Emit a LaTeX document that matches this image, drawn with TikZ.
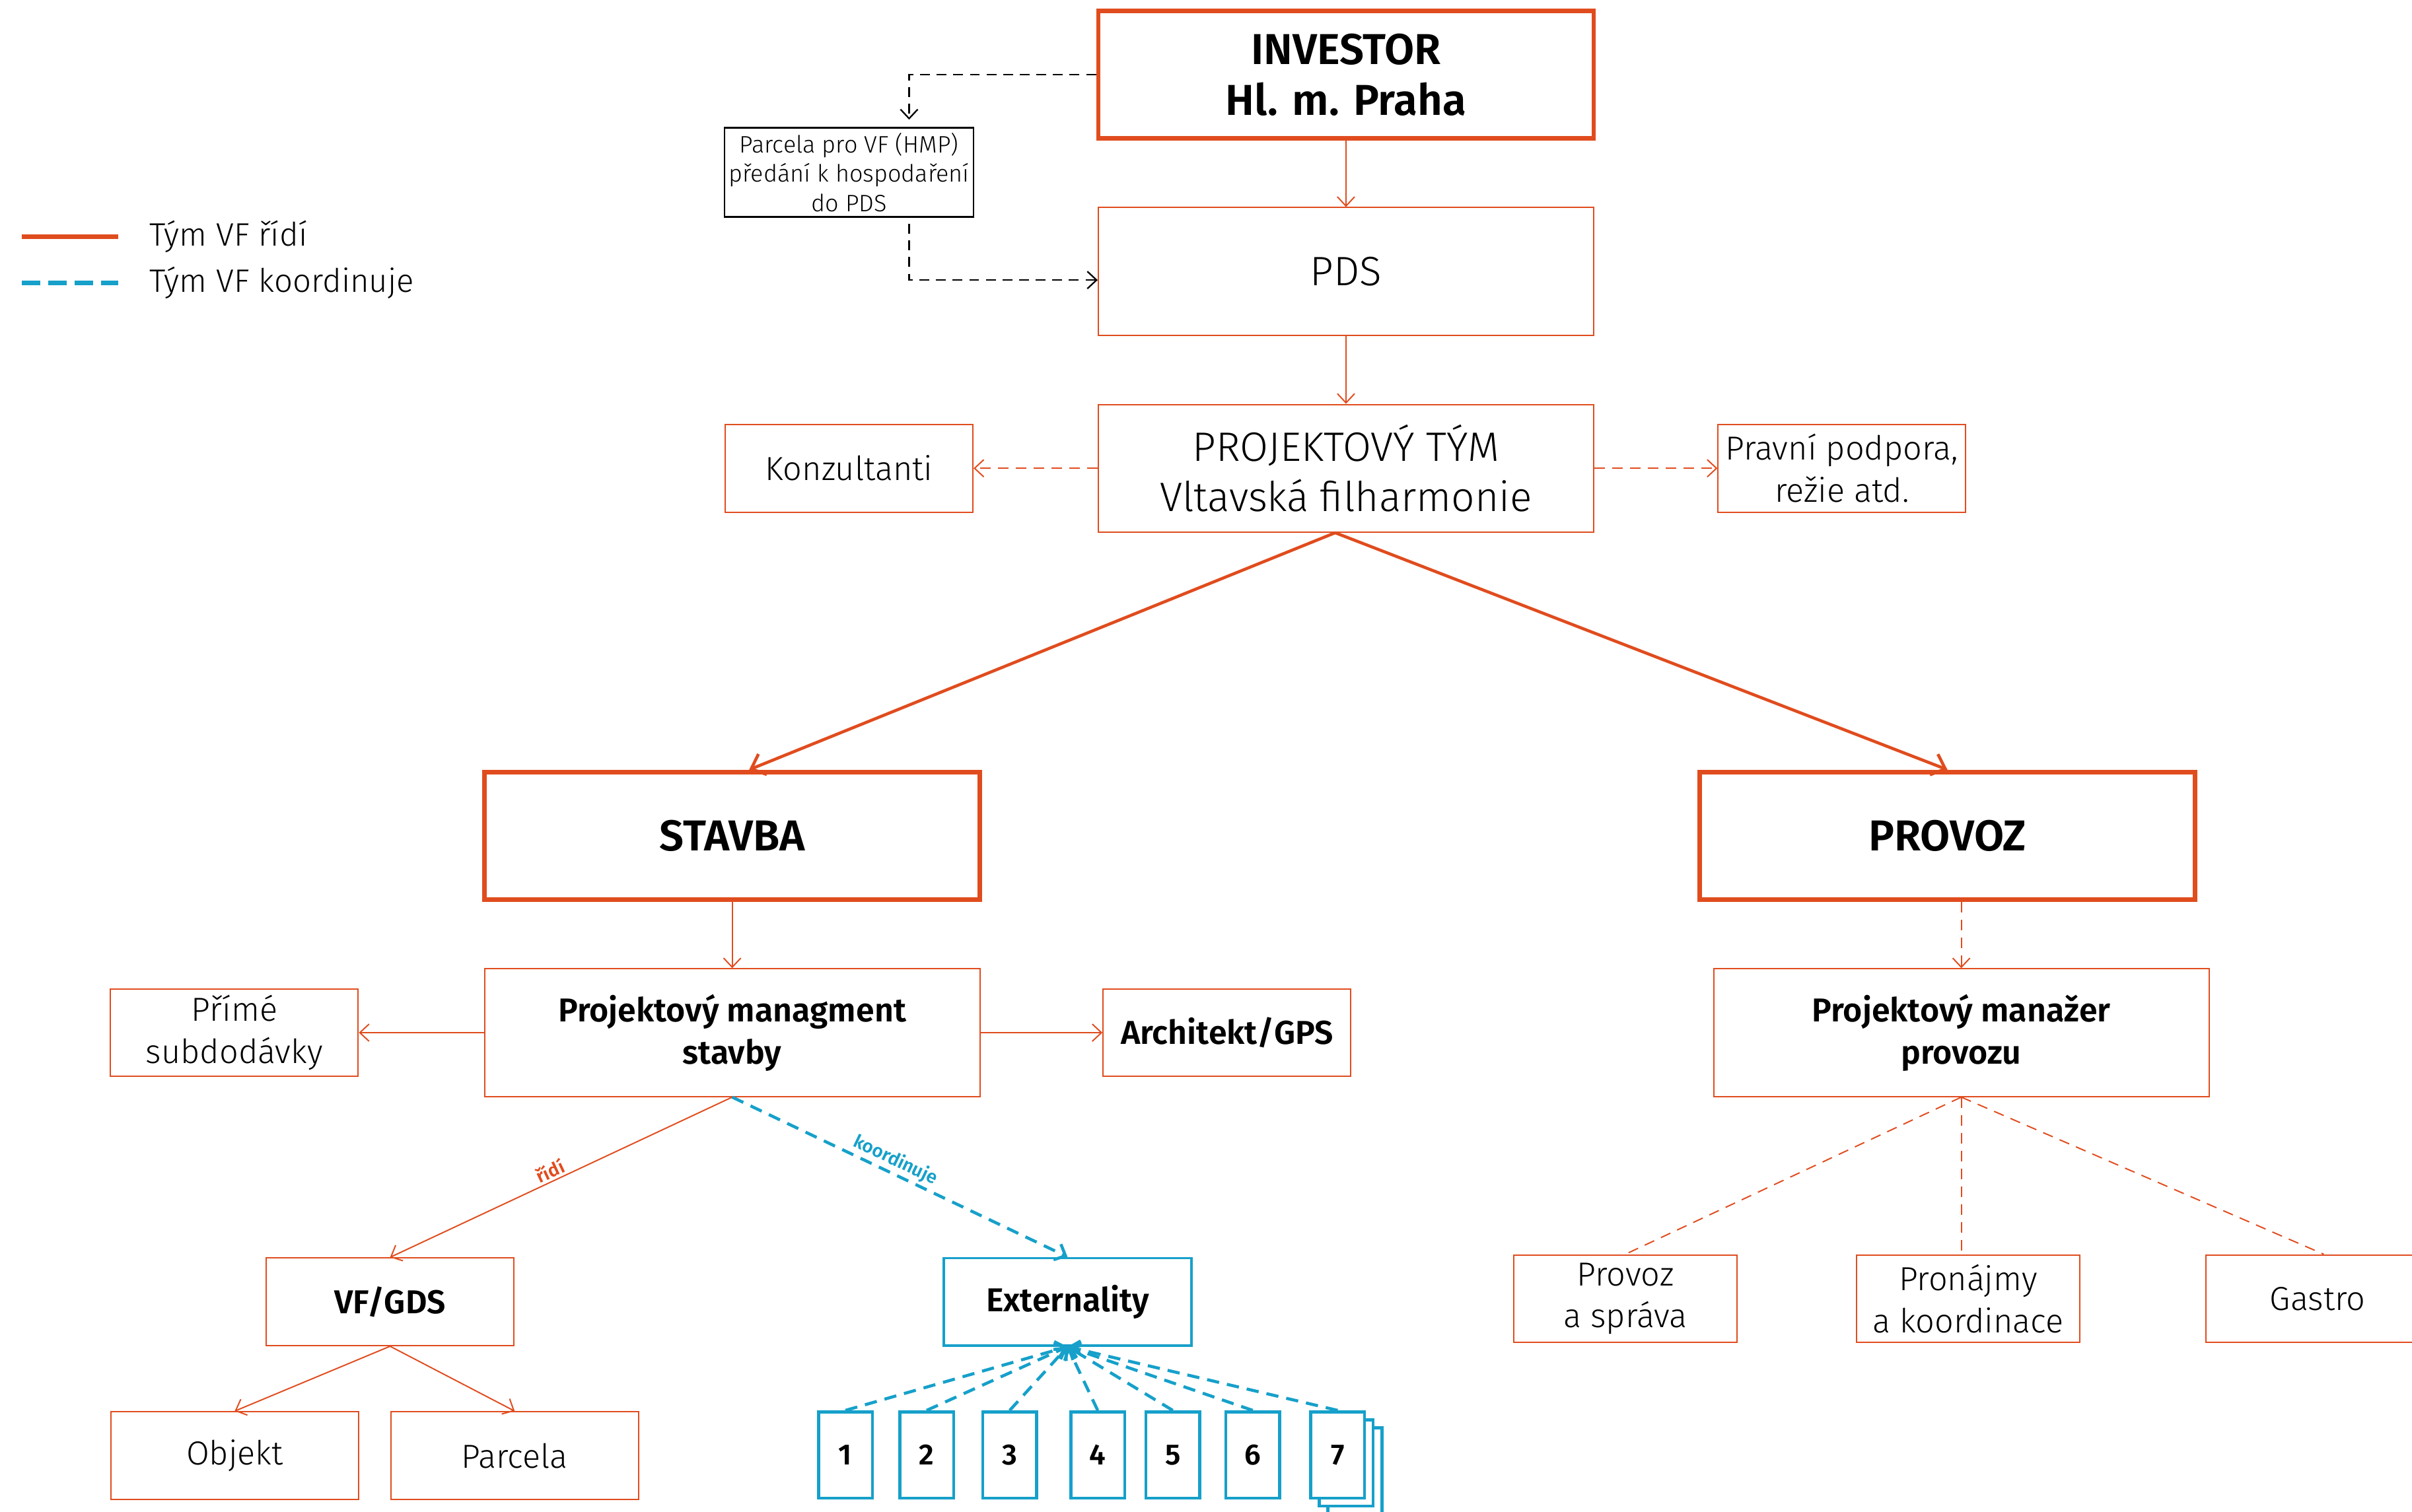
\documentclass[tikz,border=0pt]{standalone}
\usepackage{fontspec}
\setmainfont{Fira Sans}[UprightFont={* Light}, BoldFont={* SemiBold}]
\usetikzlibrary{arrows.meta,shadows}

\definecolor{vfred}{RGB}{224,76,30}
\definecolor{vfblue}{RGB}{22,160,202}

\tikzstyle{big} = [rectangle, minimum width=80.5mm, minimum height=20.75mm, inner sep=0pt, text centered, align=center, draw=vfred, line width=0.6pt, fill=white, font=\fontsize{19}{23.5}\selectfont]
\tikzstyle{main} = [big, line width=2.1pt, font=\bfseries\fontsize{20}{23.5}\selectfont]
\tikzstyle{pm} = [big, font=\bfseries\fontsize{15.3}{19.5}\selectfont]
\tikzstyle{s} = [rectangle, minimum width=40.25mm, minimum height=14.25mm, inner sep=0pt, text centered, align=center, draw=vfred, line width=0.6pt, fill=white, font=\fontsize{15.4}{19.5}\selectfont]
\tikzstyle{sb} = [s, font=\bfseries\fontsize{15.3}{19.5}\selectfont]
\tikzstyle{t} = [s, minimum width=36.25mm]
\tikzstyle{ext} = [sb, draw=vfblue, line width=1pt]
\tikzstyle{num} = [rectangle, minimum width=8.75mm, minimum height=14mm, inner sep=0pt, draw=vfblue, line width=1.4pt, fill=white, font=\bfseries\fontsize{13.5}{15}\selectfont]
\tikzstyle{note} = [rectangle, minimum width=40.5mm, minimum height=14.5mm, inner sep=0pt, align=center, draw=black, line width=0.7pt, fill=white, font=\fontsize{11}{13.5}\selectfont]
\tikzstyle{rl} = [draw=vfred, line width=0.6pt]
\tikzstyle{rd} = [rl, dash pattern=on 1.7mm off 1.2mm]
\tikzstyle{bd} = [draw=vfblue, line width=1.4pt, dash pattern=on 2mm off 1.3mm]
\tikzstyle{lab} = [sloped, above, inner sep=1pt, font=\bfseries\fontsize{8.5}{9}\selectfont]

\begin{document}
\begin{tikzpicture}[->, >={Straight Barb[length=1.5mm,width=2.8mm]}, x=0.25mm, y=-0.25mm, node distance=32mm]

    \useasboundingbox (0,0) rectangle (1568,983);

    % legend
    \node[anchor=west, inner sep=0pt, font=\fontsize{15}{18}\selectfont] (legR) at (97,154) {Tým VF řídí};
    \node[anchor=west, inner sep=0pt, font=\fontsize{15}{18}\selectfont] (legB) at (97,184) {Tým VF koordinuje};
    \draw[-, vfred, line width=2.2pt] (14,154) -- (77,154);
    \draw[-, vfblue, line width=2.2pt, dash pattern=on 3mm off 1.3mm] (14,184) -- (77,184);

    % top column
    \node[main] (INV) at (875,48.5) {INVESTOR\\Hl. m. Praha};
    \node[big] (PDS) [below of=INV] {PDS};
    \node[big] (PT) [below of=PDS] {PROJEKTOVÝ TÝM\\Vltavská filharmonie};
    \node[note] (parc) [left of=INV, xshift=-48.75mm, yshift=-15.9mm] {Parcela pro VF (HMP)\\předání k hospodaření\\do PDS};
    \node[s] (konz) [left of=PT, xshift=-48.75mm] {Konzultanti};
    \node[s] (prav) [right of=PT, xshift=48.6mm] {Pravní podpora,\\režie atd.};

    % stavba
    \node[main] (stav) [below of=PT, xshift=-99.75mm, yshift=-27.75mm] {STAVBA};
    \node[pm] (pms) [below of=stav] {Projektový managment\\stavby};
    \node[s] (prime) [left of=pms, xshift=-48.9mm] {Přímé\\subdodávky};
    \node[sb] (arch) [right of=pms, xshift=48.4mm] {Architekt/GPS};
    \node[sb] (vfg) [below of=pms, xshift=-55.6mm, yshift=-11.75mm] {VF/GDS};
    \node[ext] (ext) [below of=pms, xshift=54.5mm, yshift=-11.75mm] {Externality};
    \node[s] (obj) [below of=vfg, xshift=-25.25mm, yshift=7mm] {Objekt};
    \node[s] (parcela) [below of=vfg, xshift=20.25mm, yshift=7mm] {Parcela};
    \foreach \i/\dx in {1/-36.1,2/-22.9,3/-9.4,4/4.9,5/17.1,6/30.1}
        \node[num] (n\i) [below of=ext, xshift=\dx mm, yshift=7.1mm] {\i};
    \node[num, copy shadow={shadow xshift=2.8mm, shadow yshift=-2.6mm, draw=vfblue, fill=white},
        copy shadow={shadow xshift=1.4mm, shadow yshift=-1.3mm, draw=vfblue, fill=white}]
        (n7) [below of=ext, xshift=43.9mm, yshift=7.1mm] {7};

    % provoz
    \node[main] (prov) [below of=PT, xshift=97.75mm, yshift=-27.75mm] {PROVOZ};
    \node[pm] (pmp) [below of=prov, xshift=2.25mm] {Projektový manažer\\provozu};
    \node[t] (psp) [below of=pmp, xshift=-54.6mm, yshift=-11.25mm] {Provoz\\a správa};
    \node[t] (pron) [below of=pmp, xshift=1.1mm, yshift=-11.25mm] {Pronájmy\\a koordinace};
    \node[t] (gast) [below of=pmp, xshift=57.9mm, yshift=-11.25mm] {Gastro};

    \path[every edge/.append style={rl}]
    (INV) edge (PDS)
    (PDS) edge (PT)
    (stav) edge (pms)
    (pms) edge (prime)
    (pms) edge (arch)
    (vfg.south) edge (obj.north)
    (vfg.south) edge (parcela.north)
    (pms.south) edge node[lab, text=vfred, pos=0.52] {řídí} (vfg.north);

    \path[every edge/.append style={rl, line width=1.4pt}, >={Straight Barb[length=2mm,width=3.6mm]}]
    ([xshift=-1.75mm]PT.south) edge ([xshift=2.75mm]stav.north)
    ([xshift=-1.75mm]PT.south) edge (prov.north);

    \path[every edge/.append style={rd}]
    (PT.west) edge (konz.east)
    (PT.east) edge (prav.west)
    (prov.south -| pmp.north) edge (pmp.north)
    (pmp.south) edge[-] (psp.north)
    (pmp.south) edge[-] (pmp.south |- pron.north)
    (pmp.south) edge[-] ([xshift=1mm]gast.north);

    \path[every edge/.append style={bd}]
    (pms.south) edge node[lab, text=vfblue, pos=0.47] {koordinuje} (ext.north);
    \foreach \i in {1,...,7}
        \draw[bd] (n\i.north) -- (ext.south);

    \draw[black, line width=0.7pt, dash pattern=on 1.6mm off 1.1mm, shorten >=1.2mm] (INV.west) -| ([xshift=9.75mm]parc.north);
    \draw[black, line width=0.7pt, dash pattern=on 1.6mm off 1.1mm, shorten <=1mm] ([xshift=9.75mm]parc.south) |- ([yshift=-1.4mm]PDS.west);

\end{tikzpicture}
\end{document}
